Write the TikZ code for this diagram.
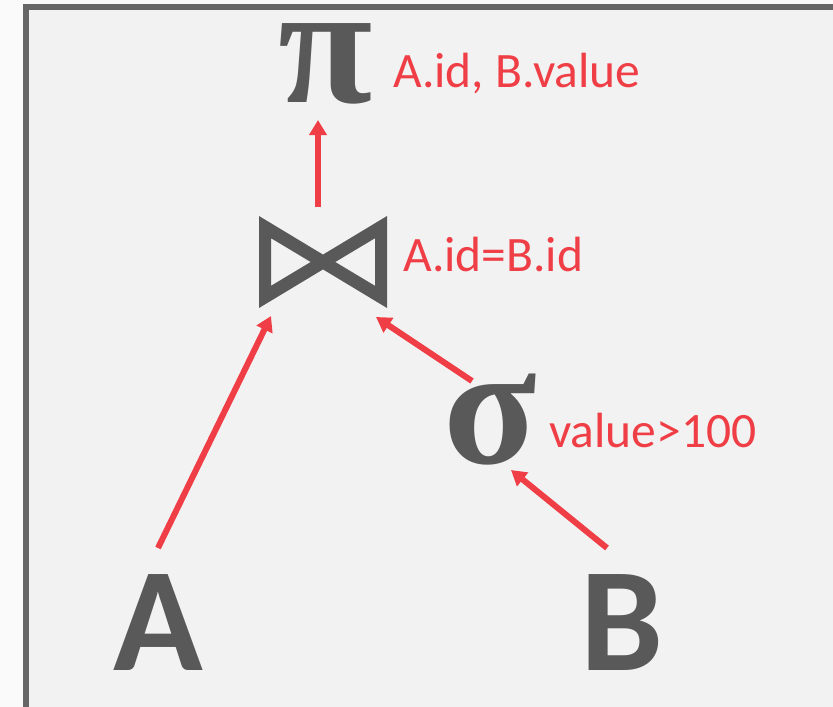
\documentclass[tikz,border=0pt]{standalone}
\usepackage{fontspec}
\setmainfont{Carlito}
\newfontfamily\symfont{Liberation Serif}
\usetikzlibrary{arrows.meta}
\definecolor{opgray}{HTML}{595959}
\definecolor{opred}{HTML}{EF3E45}
\definecolor{bordergray}{HTML}{666666}
\definecolor{panelbg}{HTML}{F2F2F2}
\definecolor{outerbg}{HTML}{FAFAFA}
\begin{document}
\begin{tikzpicture}[x=1pt,y=1pt,
  lbl/.style={text=opred,font=\fontsize{49.5}{56}\selectfont,inner sep=0pt,anchor=base west},
  rel/.style={text=opgray,font=\fontsize{148}{160}\selectfont\bfseries,inner sep=0pt,anchor=base},
  opsym/.style={text=opgray,inner sep=0pt,anchor=base,font=\symfont\bfseries\fontsize{172}{180}\selectfont},
  flow/.style={draw=opred,line width=6pt,-{Triangle[length=15pt,width=17pt]}}]
\useasboundingbox (0,0) rectangle (833,-707);
\fill[outerbg] (0,0) rectangle (833,-707);
\fill[panelbg] (26,-7) rectangle (840,-715);
\draw[bordergray,line width=6pt] (26,-715) -- (26,-7) -- (840,-7);
% projection
\node[opsym] (pi) at (326,-102) {π};
\node[lbl] (pilbl) at (393,-87) {A.id, B.value};
% join
\node[minimum width=128pt,minimum height=92pt,inner sep=0pt] (join) at (323,-262) {};
\fill[opgray,even odd rule]
  (259,-216) -- (323,-254.6) -- (387,-216) -- (387,-308) -- (323,-269.4) -- (259,-308) -- cycle
  (271,-238.2) -- (310.7,-262) -- (271,-285.8) -- cycle
  (375,-238.2) -- (335.3,-262) -- (375,-285.8) -- cycle;
\node[lbl] (joinlbl) at (403,-271) {A.id=B.id};
% selection
\node[opsym] (sigma) at (490,-463) {σ};
\node[lbl] (sigmalbl) at (549,-447) {value>100};
% relations
\node[rel] (A) at (158,-670) {A};
\node[rel] (B) at (622,-670) {B};
% connector endpoints
\coordinate (joinout) at (318,-207);
\coordinate (piin) at (318,-120);
\coordinate (Aout) at (158,-548);
\coordinate (joinL) at (271,-316);
\coordinate (sigout) at (472,-381);
\coordinate (joinR) at (376,-317);
\coordinate (Bout) at (607,-548);
\coordinate (sigin) at (511,-470);
\draw[flow] (joinout) -- (piin);
\draw[flow] (Aout) -- (joinL);
\draw[flow] (sigout) -- (joinR);
\draw[flow] (Bout) -- (sigin);
\end{tikzpicture}
\end{document}
